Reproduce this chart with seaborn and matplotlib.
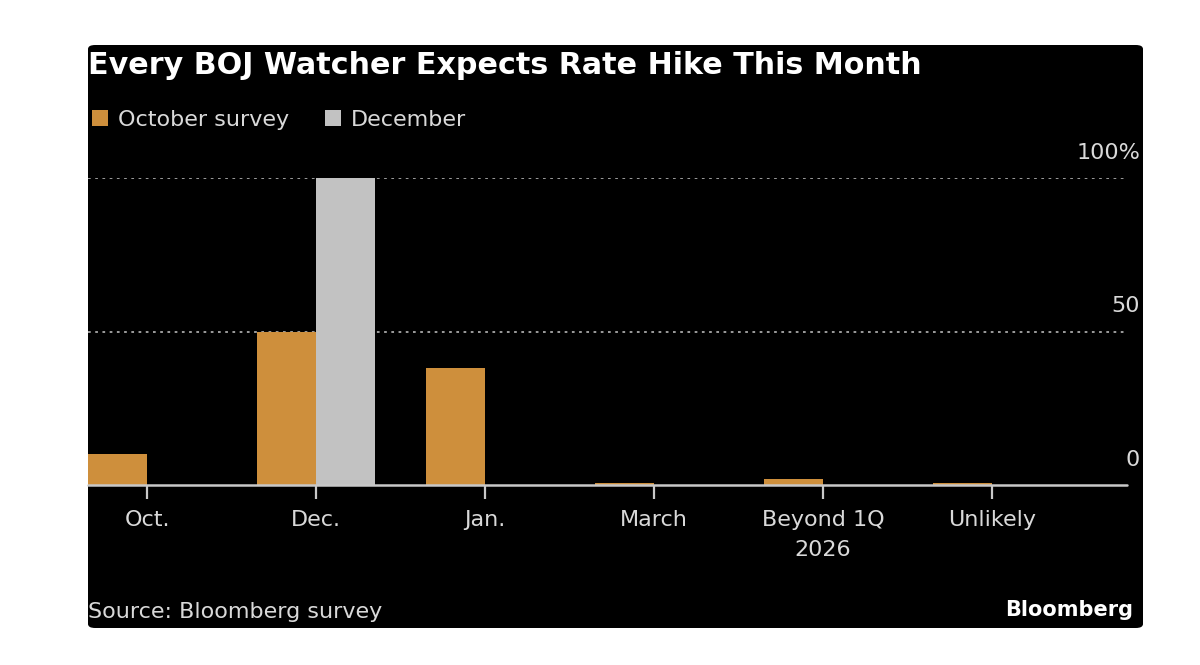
import matplotlib
matplotlib.use('Agg')
import matplotlib.pyplot as plt
from matplotlib.patches import FancyBboxPatch, Patch
from matplotlib.transforms import ScaledTranslation
import numpy as np
import pandas as pd
import seaborn as sns

# data
categories = ["Oct.", "Dec.", "Jan.", "March", "Beyond 1Q\n2026", "Unlikely"]
october_survey = [10, 50, 38, 0.5, 2, 0.5]
december_survey = [0, 100, 0, 0, 0, 0]
series_names = ["October survey", "December"]
y_ticks = [0, 50, 100]
y_tick_labels = ["0", "50", "100%"]

ORANGE = "#CE8F3C"
GREY = "#C2C2C2"
TEXT = "#D9D9D9"

df = pd.DataFrame({
    "category": categories * 2,
    "value": october_survey + december_survey,
    "survey": [series_names[0]] * len(categories) + [series_names[1]] * len(categories),
})

sns.set_theme(style="white")
plt.rcParams['font.family'] = ['DejaVu Sans']

fig = plt.figure(figsize=(12, 6.65), dpi=100, facecolor="white")

# black rounded panel
panel = FancyBboxPatch((88 / 1200, 1 - 628 / 665), (1143 - 88) / 1200, (628 - 45) / 665,
                       boxstyle="round,pad=0,rounding_size=0.006", transform=fig.transFigure,
                       facecolor="black", edgecolor="none", zorder=-5)
fig.patches.append(panel)

ax = fig.add_axes([88 / 1200, (665 - 485) / 665, 1039 / 1200, (485 - 178) / 665])
ax.set_facecolor("none")
ax.set_zorder(2)

sns.barplot(data=df, x="category", y="value", hue="survey", palette=[ORANGE, GREY],
            width=0.7, saturation=1, linewidth=0, ax=ax, legend=False)

ax.set_xlim(-0.35, 5.8)
ax.set_ylim(0, 100)
for s in ax.spines.values():
    s.set_visible(False)

# gridlines
for v in [50, 100]:
    ax.axhline(v, color="#A8A8A8", lw=1.3, ls=(0, (1.5, 2.5)), zorder=0)
ax.axhline(0, color="#C8C8C8", lw=1.8, zorder=3, clip_on=False)

ax.set_xlabel("")
ax.set_ylabel("")
ax.tick_params(axis="x", bottom=True, colors="#C8C8C8", length=10, width=1.6, pad=8,
               labelcolor=TEXT, labelsize=16)
ax.set_xticks(range(len(categories)))
ax.set_xticklabels(categories, linespacing=1.6)

ax.yaxis.tick_right()
ax.set_yticks(y_ticks)
ax.set_yticklabels(y_tick_labels)
ax.tick_params(axis="y", length=0, pad=9.5, labelcolor=TEXT, labelsize=16)
for lab in ax.get_yticklabels():
    lab.set_ha("right")
    lab.set_va("bottom")
    lab.set_transform(lab.get_transform() + ScaledTranslation(0, 11 / 72, fig.dpi_scale_trans))

fig.text(88 / 1200, 1 - 65 / 665, "Every BOJ Watcher Expects Rate Hike This Month",
         color="white", fontsize=21.7, fontweight="bold", va="center", ha="left")

handles = [Patch(facecolor=ORANGE, edgecolor="none"), Patch(facecolor=GREY, edgecolor="none")]
fig.legend(handles, series_names, loc="center left", bbox_to_anchor=(81 / 1200, 1 - 120 / 665),
           ncol=2, frameon=False, fontsize=16, labelcolor=TEXT, borderpad=0,
           handlelength=0.7, handleheight=0.7, handletextpad=0.45, columnspacing=1.65)

fig.text(88 / 1200, 1 - 612 / 665, "Source: Bloomberg survey", color=TEXT, fontsize=16,
         va="center", ha="left")
fig.text(1133 / 1200, 1 - 610 / 665, "Bloomberg", color="white", fontsize=15,
         fontweight="bold", va="center", ha="right")

fig.savefig("out.png", dpi=100, facecolor="white")
